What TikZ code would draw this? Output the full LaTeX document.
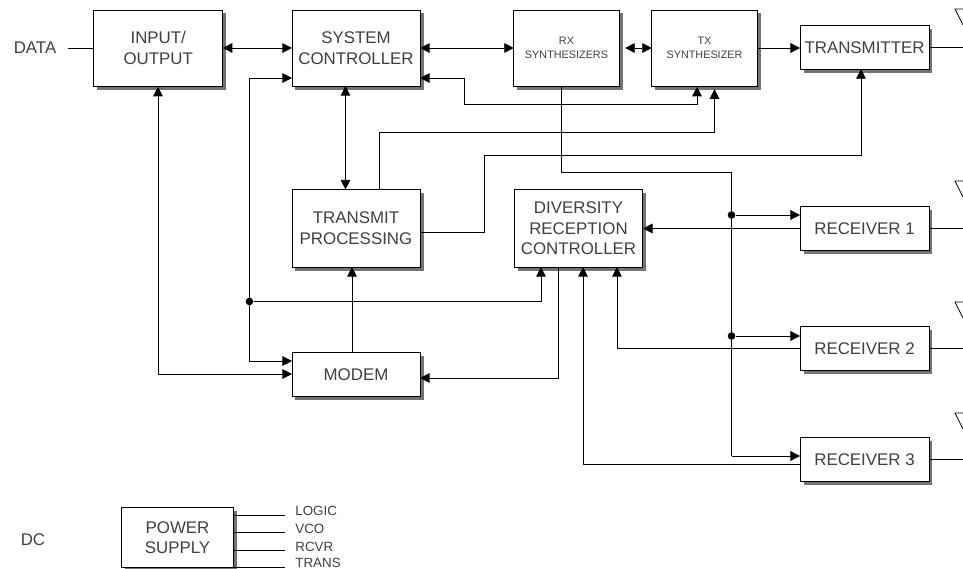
\documentclass[tikz,border=0pt]{standalone}
\usepackage{fontspec}
\setmainfont{Liberation Sans}
\usetikzlibrary{arrows.meta,backgrounds}

\begin{document}
\begin{tikzpicture}[x=0.025cm,y=-0.025cm,>={Triangle[length=2.4mm,width=2.4mm]},line width=0.6pt,
  blk/.style={draw,fill=white,inner sep=0pt,outer sep=0pt,align=center,text=black!75,
    font=\fontsize{12}{14.6}\selectfont},
  smallblk/.style={blk,font=\fontsize{7.7}{9.5}\selectfont},
  lab/.style={inner sep=0pt,text=black!75,font=\fontsize{12}{14.6}\selectfont},
  rail/.style={inner sep=0pt,anchor=west,text=black!75,font=\fontsize{9.5}{11}\selectfont},
  dot/.style={circle,fill=black,inner sep=0pt,minimum size=1.9mm}]
  \useasboundingbox (0,0) rectangle (963,569);
  \clip (0,0) rectangle (963,569);

  \node[blk,minimum width=3.22cm,minimum height=1.9cm] (io) at (158.25,48) {INPUT/\\OUTPUT};
  \node[blk,minimum width=3.2cm,minimum height=1.9cm] (sys) at (356,48) {SYSTEM\\CONTROLLER};
  \node[smallblk,minimum width=2.63cm,minimum height=1.9cm] (rx) at (566.5,48) {RX\\SYNTHESIZERS};
  \node[smallblk,minimum width=2.63cm,minimum height=1.9cm] (tx) at (704.5,48) {TX\\SYNTHESIZER};
  \node[blk,minimum width=3.22cm,minimum height=1.08cm] (trans) at (864.5,47.5) {TRANSMITTER};
  \node[blk,minimum width=3.2cm,minimum height=1.94cm] (proc) at (356,228.25) {TRANSMIT\\PROCESSING};
  \node[blk,minimum width=3.22cm,minimum height=1.94cm] (div) at (578.5,228.25) {DIVERSITY\\RECEPTION\\CONTROLLER};
  \node[blk,minimum width=3.22cm,minimum height=1.08cm] (rcv1) at (864.5,228.5) {RECEIVER 1};
  \node[blk,minimum width=3.22cm,minimum height=1.08cm] (rcv2) at (864.5,348.5) {RECEIVER 2};
  \node[blk,minimum width=3.22cm,minimum height=1.08cm] (rcv3) at (864.5,459.5) {RECEIVER 3};
  \node[blk,minimum width=3.2cm,minimum height=1.08cm] (modem) at (356,374.5) {MODEM};
  \node[blk,minimum width=2.8cm,minimum height=1.51cm] (pwr) at (177.5,537.5) {POWER\\SUPPLY};

  % shadows
  \begin{scope}[on background layer]
    \foreach \n in {io,sys,rx,tx,trans,proc,div,rcv1,rcv2,rcv3,modem,pwr}
      \fill[black!55] ([shift={(3.5,3.5)}]\n.south west) rectangle ([shift={(3.5,3.5)}]\n.north east);
  \end{scope}

  \node[lab] (data) at (35,48) {DATA};
  \node[lab] (dc) at (33,540) {DC};
  \node[rail] (logic) at (295,511) {LOGIC};
  \node[rail] (vco) at (295,529) {VCO};
  \node[rail] (rcvr) at (295,546.5) {RCVR};
  \node[rail] (tr) at (295,562.5) {TRANS};

  \node[dot] (d0) at (249.5,301.5) {};
  \node[dot] (d1) at (731.5,215) {};
  \node[dot] (d2) at (731.5,336) {};

  % waypoints
  \coordinate (in) at (67.5,48);
  \coordinate (a1) at (249.5,78);
  \coordinate (a2) at (249.5,361);
  \coordinate (b1) at (158,374);
  \coordinate (c1) at (464,78);
  \coordinate (c2) at (464,104);
  \coordinate (c3) at (697,104);
  \coordinate (e1) at (379,132.5);
  \coordinate (e2) at (714.5,132.5);
  \coordinate (f1) at (484.5,232);
  \coordinate (f2) at (484.5,155.5);
  \coordinate (f3) at (861,155.5);
  \coordinate (g1) at (561.5,172);
  \coordinate (g2) at (731.5,172);
  \coordinate (g3) at (731.5,456);
  \coordinate (h1) at (541,301.5);
  \coordinate (k1) at (558,378);
  \coordinate (m1) at (617,348.5);
  \coordinate (n1) at (583,464);
  \coordinate (p1) at (345.5,140);
  \coordinate (q1) at (352,300);

  \draw (in) -- (io.west);
  \draw[<->] (io.east) -- (sys.west);
  \draw[<->] (sys.east) -- (rx.west);
  \draw[<->] ([xshift=0.15cm]rx.east) -- (tx.west);
  \draw[->] (tx.east) -- (trans.west |- tx.east);

  \draw[<->] (p1 |- sys.south) -- (p1 |- proc.north);
  \draw[->] (q1 |- modem.north) -- (q1 |- proc.south);
  \draw[<->] ([yshift=-0.02cm]b1 |- io.south) -- (b1) -- (modem.west |- b1);
  \draw[<->] (sys.west |- a1) -- (a1) -- (a2) -- (modem.west |- a2);
  \draw[->] (d0) -- (h1) -- (h1 |- div.south);
  \draw[<->] (sys.east |- c1) -- (c1) -- (c2) -- (c3) -- ([yshift=-0.02cm]c3 |- tx.south);
  \draw[->] (e1 |- proc.north) -- (e1) -- (e2) -- ([yshift=-0.08cm]e2 |- tx.south);
  \draw[->] (proc.east |- f1) -- (f1) -- (f2) -- (f3) -- (f3 |- trans.south);
  \draw (g1 |- rx.south) -- (g1) -- (g2) -- (g3);
  \draw[->] (g3) -- (rcv3.west |- g3);
  \draw[->] (d1) -- (rcv1.west |- d1);
  \draw[->] (d2) -- (rcv2.west |- d2);
  \draw[->] (rcv1.west) -- (div.east |- rcv1.west);
  \draw[->] (rcv2.west) -- (m1) -- (m1 |- div.south);
  \draw[->] (rcv3.west |- n1) -- (n1) -- (n1 |- div.south);
  \draw[->] (k1 |- div.south) -- (k1) -- (modem.east |- k1);

  % antennas
  \foreach \t in {9,181,302,413}
    \draw (963,\t) -- (955,\t) -- (963,\t+16);
  \foreach \n in {trans,rcv1,rcv2,rcv3}
    \draw (\n.east) -- (963,0 |- \n.east);

  % dc rails
  \foreach \y in {515.5,532.5,550,567}
    \draw (pwr.east |- 0,\y) -- (285,\y);
\end{tikzpicture}
\end{document}
